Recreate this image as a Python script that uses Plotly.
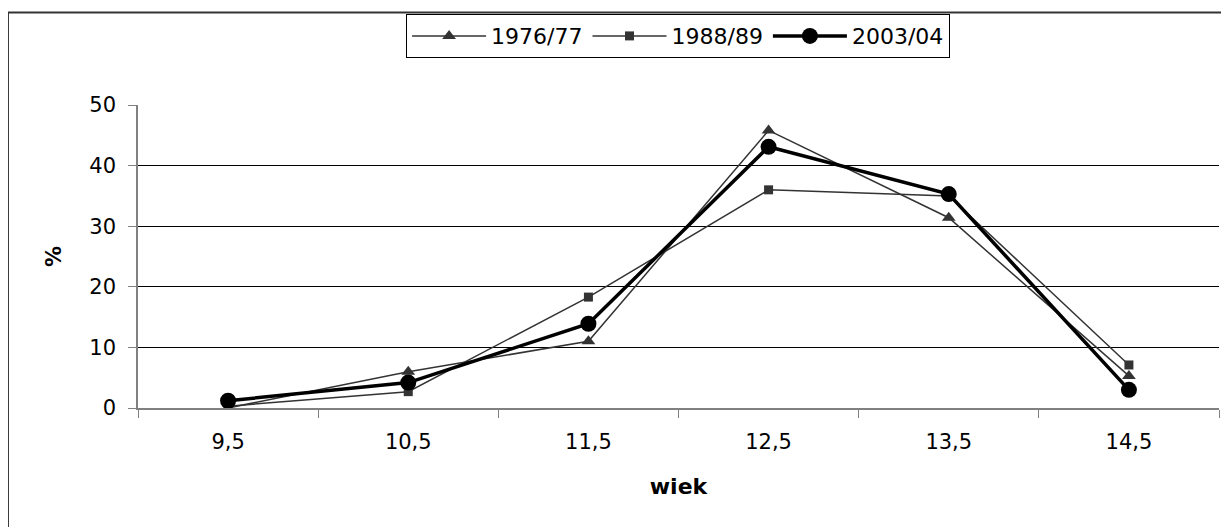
import plotly.graph_objects as go

categories = ["9,5", "10,5", "11,5", "12,5", "13,5", "14,5"]
s1976 = [0.0, 6.0, 11.0, 45.8, 31.4, 5.3]
s1988 = [0.3, 2.7, 18.3, 36.0, 35.0, 7.1]
s2003 = [1.2, 4.2, 13.9, 43.1, 35.3, 3.0]
yticks = [0, 10, 20, 30, 40, 50]

fig = go.Figure()
fig.add_trace(go.Scatter(x=categories, y=s1976, name="1976/77", mode="lines+markers",
                         line=dict(color="#333333", width=1.5),
                         marker=dict(symbol="triangle-up", size=12, color="#333333")))
fig.add_trace(go.Scatter(x=categories, y=s1988, name="1988/89", mode="lines+markers",
                         line=dict(color="#333333", width=1.5),
                         marker=dict(symbol="square", size=9, color="#333333")))
fig.add_trace(go.Scatter(x=categories, y=s2003, name="2003/04", mode="lines+markers",
                         line=dict(color="#000000", width=3.5),
                         marker=dict(symbol="circle", size=16, color="#000000")))

fam = "DejaVu Sans, Liberation Sans, Arial, sans-serif"
font = dict(family=fam, size=22, color="#000000")

# page has an 8px body margin: figure coords = page coords - 8
fig.update_layout(
    width=1229, height=527,
    margin=dict(l=130, r=18, t=97, b=127, autoexpand=False),
    paper_bgcolor="white", plot_bgcolor="white",
    font=font,
    showlegend=True,
    legend=dict(orientation="h", x=0.248, y=1.300, xanchor="left", yanchor="top",
                bordercolor="#000000", borderwidth=1, bgcolor="white",
                font=dict(family=fam, size=22),
                itemwidth=74, tracegroupgap=0, traceorder="normal"),
    xaxis=dict(type="category", tickson="boundaries", ticks="outside", ticklen=8,
               tickcolor="#808080", showline=True, linecolor="#808080", linewidth=1.5,
               showgrid=False, zeroline=False, range=[-0.5, 5.5],
               ticklabelstandoff=14,
               title=dict(text="<b>wiek</b>", font=dict(family=fam, size=22), standoff=26),
               tickfont=dict(family=fam, size=21)),
    yaxis=dict(range=[0, 50], tickvals=yticks, ticks="outside", ticklen=8,
               tickcolor="#808080", showline=True, linecolor="#808080", linewidth=1.5,
               showgrid=True, gridcolor="#000000", gridwidth=1, zeroline=False,
               ticklabelstandoff=8,
               title=dict(text="<b>%</b>", font=dict(family=fam, size=21), standoff=22),
               tickfont=dict(family=fam, size=21)),
    shapes=[dict(type="rect", xref="paper", yref="paper",
                 x0=-0.1203, x1=1.03, y0=-0.45, y1=1.305,
                 line=dict(color="#333333", width=2), fillcolor="rgba(0,0,0,0)", layer="below")],
)

fig.write_html("out.html")
